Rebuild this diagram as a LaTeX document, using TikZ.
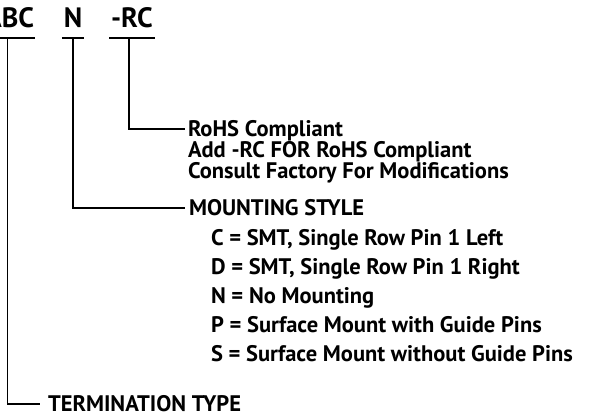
\documentclass[tikz,border=0pt]{standalone}
\usepackage{fontspec}
\setmainfont{PT Sans}
\usetikzlibrary{positioning}
\tikzset{
    %Define style for part code letters
    code/.style={
           font=\fontsize{28}{30}\selectfont\bfseries,
           inner xsep=2pt, inner ysep=10pt,
           text depth=0pt, outer sep=0pt},
    % Define style for option texts
    entry/.style={
           font=\fontsize{22.5}{25}\selectfont\bfseries,
           inner xsep=3pt, inner ysep=0pt,
           text height=15pt, text depth=0pt,
           outer sep=0pt},
    % Define leader line style
    lead/.style={
           line width=1.6pt}
}

\begin{document}
\begin{tikzpicture}[x=1pt, y=-1pt, node distance=5pt]
 \useasboundingbox (0,0) rectangle (599,417);
 %part code
    \node[code, anchor=base east, inner xsep=1pt] (abc) at (35,28) {ABC};
    \node[code, anchor=base] (mnt) at (73,28) {N};
    \node[code, anchor=base west] (rc) at (109,28) {-RC};
 %options
    \node[entry, anchor=west] (rohs) at (185,129) {RoHS Compliant};
    \node[entry, below=6pt of rohs.south west, anchor=north west] (addrc) {Add -RC FOR RoHS Compliant};
    \node[entry, below=6pt of addrc.south west, anchor=north west] (consult) {Consult Factory For Modifications};
    \node[entry, anchor=west, inner xsep=4pt] (mstyle) at (185,208) {MOUNTING STYLE};
    \node[entry, below=15pt of mstyle.south west, xshift=23pt, anchor=north west] (optc) {C = SMT, Single Row Pin 1 Left};
    \node[entry, below=14pt of optc.south west, anchor=north west] (optd) {D = SMT, Single Row Pin 1 Right};
    \node[entry, below=14pt of optd.south west, anchor=north west] (optn) {N = No Mounting};
    \node[entry, below=14pt of optn.south west, anchor=north west] (optp) {P = Surface Mount with Guide Pins};
    \node[entry, below=14pt of optp.south west, anchor=north west] (opts) {S = Surface Mount without Guide Pins};
    \node[entry, anchor=west, inner xsep=8pt] (term) at (40,404) {TERMINATION TYPE};
 %underlines
    \draw[lead] (abc.south west) -- (abc.south east);
    \draw[lead] (mnt.south west) -- (mnt.south east);
    \draw[lead] (rc.south west) -- (rc.south east);
 %leaders
    \draw[lead] ([xshift=-2pt]abc.south) |- (term.west);
    \draw[lead] (mnt.south) |- (mstyle.west);
    \draw[lead] ([xshift=-3pt]rc.south) |- (rohs.west);
\end{tikzpicture}
\end{document}
